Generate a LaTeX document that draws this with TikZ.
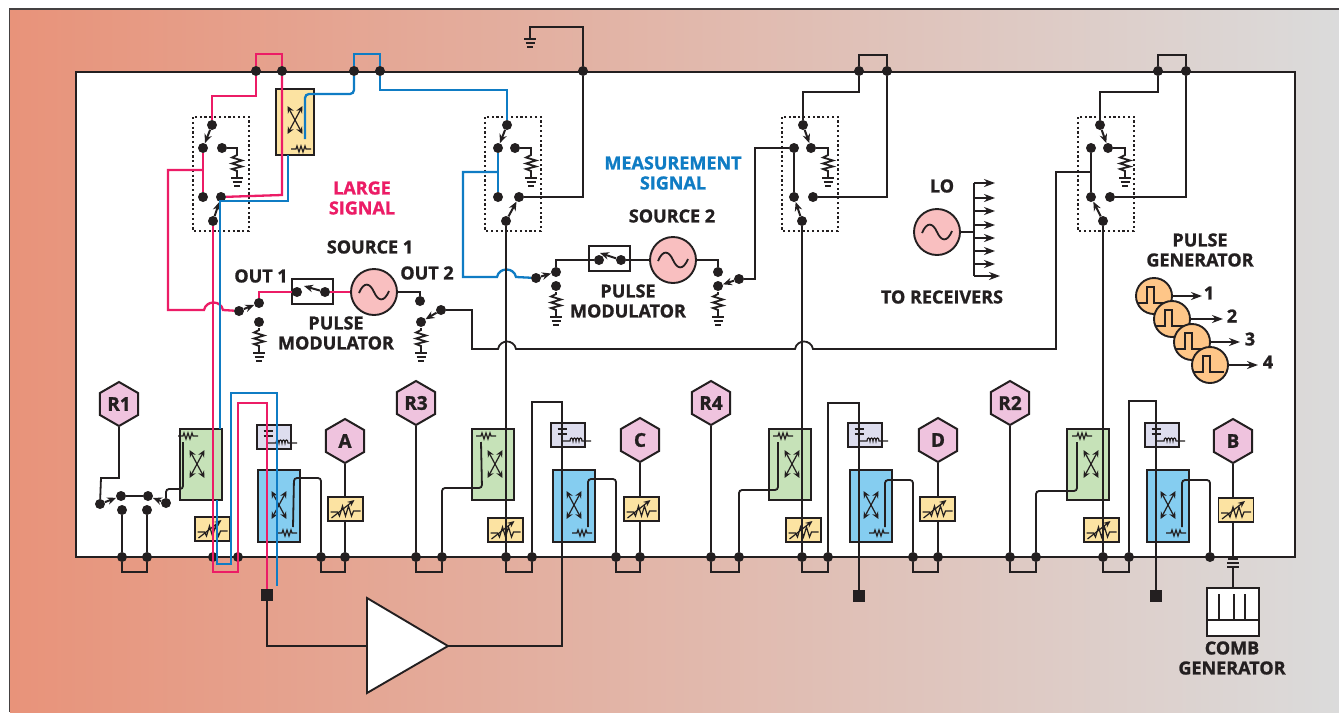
\documentclass[tikz,border=0pt]{standalone}
\usepackage{fontspec}
\setmainfont[BoldFeatures={FakeBold=1.2}]{Open Sans}
\usetikzlibrary{arrows.meta,shapes.geometric}
\definecolor{ink}{HTML}{231F20}
\definecolor{bgL}{HTML}{E8937A}
\definecolor{bgM}{HTML}{E1BBA8}
\definecolor{bgR}{HTML}{DBDBDB}
\definecolor{pnk}{HTML}{EC1C66}
\definecolor{blu}{HTML}{0F7CC4}
\definecolor{grnF}{HTML}{C6E2B8}
\definecolor{bluF}{HTML}{85CDF0}
\definecolor{ylwF}{HTML}{FCE3A2}
\definecolor{lilF}{HTML}{DDDDEE}
\definecolor{hexF}{HTML}{EFC3DE}
\definecolor{srcF}{HTML}{F9BFC0}
\definecolor{pgF}{HTML}{FEC688}
\tikzset{
  wire/.style={draw=ink,line width=1.8pt},
  pnkw/.style={draw=pnk,line width=2.3pt},
  bluw/.style={draw=blu,line width=2.3pt},
  fine/.style={draw=ink,line width=1.2pt},
  blk/.style={draw=ink,line width=1.9pt},
  dot/.style={circle,fill=ink,inner sep=0pt,minimum size=10pt},
  sw/.style={draw=ink,line width=2pt,-{Stealth[length=9pt,width=7.5pt]}},
  tip/.style={-{Stealth[length=11pt,width=8pt]}},
  lab/.style={inner sep=0pt,align=center,text=ink,font=\bfseries\fontsize{18}{20}\selectfont},
  hexn/.style={regular polygon,regular polygon sides=6,shape border rotate=30,draw=ink,line width=2pt,
    fill=hexF,inner sep=0pt,minimum size=44pt,text=ink,font=\bfseries\fontsize{19}{20}\selectfont},
  srcn/.style={circle,draw=ink,line width=1.9pt,fill=srcF,inner sep=0pt,minimum size=46pt},
  pgn/.style={circle,draw=ink,line width=1.9pt,fill=pgF,inner sep=0pt,minimum size=36pt},
  sqr/.style={rectangle,fill=ink,inner sep=0pt,minimum size=12pt},
  pics/xcross/.style={code={
    \draw[fine,{Stealth[length=7pt,width=6.5pt]}-{Stealth[length=7pt,width=6.5pt]}] (-7.5,-14) -- (7.5,14);
    \draw[fine,{Stealth[length=7pt,width=6.5pt]}-{Stealth[length=7pt,width=6.5pt]}] (7.5,-14) -- (-7.5,14);
  }},
  pics/rzig/.style={code={
    \draw[fine] (-10,0) -- (-5,0) -- (-4,-3) -- (-2,3) -- (0,-3) -- (2,3) -- (4,-3) -- (5,0) -- (10,0);
  }},
  pics/gndres/.style={code={
    \draw[wire] (0,0) -- (0,2) -- (-5,4.5) -- (5,7.5) -- (-5,10.5) -- (5,13.5) -- (-5,16) -- (0,18) -- (0,25);
    \pic at (0,25) {gnd};
  }},
  pics/gnd/.style={code={
    \draw[wire] (-6,0) -- (6,0) (-4.5,4) -- (4.5,4) (-3,8) -- (3,8);
  }},
  pics/attn/.style={code={
    \draw[blk,fill=ylwF] (-17.5,-12) rectangle (17.5,12);
    \draw[fine] (-15,3) -- (-8,3) -- (-6,7) -- (-3,-3) -- (0,7) -- (3,-3) -- (6,7) -- (8,2) -- (15,2);
    \draw[fine,-{Stealth[length=7pt,width=6pt]}] (-14,9) -- (9,-9);
  }},
  pics/grnblk/.style={code={
    \draw[blk,fill=grnF] (0,0) rectangle (42,71);
    \pic at (#1,35) {xcross};
    \pic at (#1-9,7) {rzig};
    \coordinate (-tap) at (#1-14,13);
  }},
  pics/blublk/.style={code={
    \draw[blk,fill=bluF] (0,0) rectangle (42,72);
    \pic at (21,35) {xcross};
    \pic at (29,63) {rzig};
    \coordinate (-tap) at (35,57);
  }},
  pics/biast/.style={code={
    \draw[blk,fill=lilF] (-11,0) rectangle (23,24);
    \draw[wire] (-4.5,6) -- (4.5,6) (-4.5,11) -- (4.5,11);
    \draw[fine] (0,18) -- (8,18) .. controls +(0,-4) and +(0,-4) .. ++(3,0)
      .. controls +(0,-4) and +(0,-4) .. ++(3,0) .. controls +(0,-4) and +(0,-4) .. ++(3,0)
      .. controls +(0,-4) and +(0,-4) .. ++(3,0) -- (29,18);
  }},
  pics/sinew/.style={code={
    \draw[wire] (-15,1) .. controls (-10,-11) and (-4,-9) .. (0,0) .. controls (4,9) and (10,11) .. (15,-1);
  }},
  pics/pulsew/.style={code={
    \draw[wire] (-16,7) -- (-7,7) -- (-7,-9) -- (0,-9) -- (0,7) -- (14,7);
  }},
}
\begin{document}
\begin{tikzpicture}[x=1pt,y=-1pt]
  \useasboundingbox (0,0) rectangle (1339,713);
  % background and instrument frame
  \shade[left color=bgL,middle color=bgM,right color=bgR] (10,9) rectangle (1339,712);
  \draw[ink!85,line width=1.5pt] (9.5,712) -- (9.5,8.8) -- (1339,8.8);
  \draw[draw=ink,line width=2.2pt,fill=white] (76,72) rectangle (1295,557);
  % blocks below the wires
  \pic (gA) at (180,429) {grnblk=17};
  \pic (gB) at (472,429) {grnblk=23};
  \pic (gC) at (769,429) {grnblk=23};
  \pic (gD) at (1067,429) {grnblk=24};
  \pic (cA) at (258,470) {blublk};
  \pic (cB) at (553,470) {blublk};
  \pic (cC) at (850,470) {blublk};
  \pic (cD) at (1147,470) {blublk};
  \pic (bA) at (268,425) {biast};
  \pic (bB) at (562,423) {biast};
  \pic (bC) at (859,423) {biast};
  \pic (bD) at (1156,423) {biast};
  \foreach \x/\y in {212.5/529,505.5/530,803.5/530,1101.5/530}
    \pic at (\x,\y) {attn};
  % directional coupler at the top
  \draw[blk,fill=ylwF] (276,89) rectangle (314,155);
  \pic at (295,120) {xcross};
  \pic at (301,149) {rzig};
  \coordinate (ycTap) at (305,139);
  \coordinate (ycOut) at (288,155);
  % transfer switches
  \foreach \n/\bx/\tx/\ulx/\urx/\llx/\lrx/\px/\rx/\ta/\ba in {
      A/193/212/203/222/203/221/213/237/ul/lr,
      B/485/507/498/515/498/519/506/531/ul/lr,
      C/782/803/794/811/794/813/802/828/ur/ll,
      D/1078/1100/1091/1108/1091/1110/1103/1125/ur/ll} {
    \draw[draw=ink,line width=1.5pt,dash pattern=on 2.2pt off 2.6pt] (\bx,117) rectangle +(56,114);
    \node[dot] (sw\n-t) at (\tx,125) {};
    \node[dot] (sw\n-ul) at (\ulx,148) {};
    \node[dot] (sw\n-ur) at (\urx,148) {};
    \node[dot] (sw\n-ll) at (\llx,197) {};
    \node[dot] (sw\n-lr) at (\lrx,197) {};
    \node[dot] (sw\n-b) at (\px,221) {};
    \draw[sw] (sw\n-t) -- (sw\n-\ta);
    \draw[sw] (sw\n-b) -- (sw\n-\ba);
    \draw[wire] (sw\n-ur) -- (\rx,148) -- (\rx,153);
    \pic at (\rx,153) {gndres};
  }
  % dots on the frame
  \foreach \n/\x in {pa/256,pb/282,qa/354,qb/380,k/583,ca/859,cb/887,da/1158,db/1186}
    \node[dot] (top\n) at (\x,71) {};
  \foreach \n/\xa/\xb in {1/122/147,2/213/238,3/321/345,4/416/442,5/506/532,6/616/640,
      7/711/739,8/802/828,9/913/938,10/1010/1036,11/1103/1129} {
    \node[dot] (lp\n a) at (\xa,557) {};
    \node[dot] (lp\n b) at (\xb,557) {};
  }
  \node[dot] (lp12) at (1210,557) {};
  % loops through the frame
  \foreach \n in {1,3,4,5,6,7,8,9,10,11}
    \draw[wire] (lp\n a) -- ++(0,15) -| (lp\n b);
  \draw[pnkw] (toppa) -- ++(0,-17) -| (toppb);
  \draw[bluw] (topqa) -- ++(0,-17) -| (topqb);
  \draw[wire] (topca) -- ++(0,-16) -| (topcb);
  \draw[wire] (topda) -- ++(0,-16) -| (topdb);
  % receivers and ports
  \foreach \n/\lab/\x/\y in {R1/R1/119/404,R3/R3/416/403,R4/R4/711/403,R2/R2/1010/403,
      PA/A/345/441,PB/C/640/440,PC/D/938/440,PD/B/1233/441}
    \node[hexn] (hex\n) at (\x,\y) {\lab};
  \node[sqr] (sqA) at (267,595) {};
  \node[sqr] (sqC) at (859,596) {};
  \node[sqr] (sqD) at (1156,596) {};
  % port 1 wiring
  \draw[pnkw] (toppa) -- (256,96) -- (212,96) -- (swA-t);
  \draw[pnkw] (toppb) -- (282,195) -- (swA-lr);
  \draw[pnkw] (swA-ul) -- (swA-ll);
  \coordinate (brA) at (203,170);
  \node[dot] (o1a) at (239,311) {};
  \node[dot] (o1b) at (259,303) {};
  \node[dot] (o1r) at (259,322) {};
  \draw[pnkw] (brA) -- (168,170) -- (168,310) -- (204,310) .. controls (206,300) and (221,300) .. (223,310) -- (o1a);
  \draw[pnkw] (swA-b) -- (213,572) -- (238,572) -- (238,403) -- (267,403) -- (sqA);
  \draw[bluw,rounded corners=4pt] (ycTap) -- (305,94) -- (354,94) -- (topqa);
  \draw[bluw] (ycOut) -- (288,201) -- (220,201) -- (220,429);
  \coordinate (cOutA) at (217,500);
  \coordinate (cEndA) at (277,586);
  \draw[bluw] (cOutA) -- (217,564) -- (231,564) -- (231,393) -- (277,393) -- (cEndA);
  \draw[bluw] (topqb) -- (380,90) -- (507,90) -- (swB-t);
  % port 2 wiring
  \draw[bluw] (swB-ul) -- (swB-ll);
  \coordinate (brB) at (498,172);
  \node[dot] (o3a) at (536,278) {};
  \node[dot] (o3b) at (556,272) {};
  \node[dot] (o3r) at (556,286) {};
  \draw[bluw] (brB) -- (463,172) -- (463,277) -- (497,277) .. controls (499,267) and (514,267) .. (516,277) -- (o3a);
  \draw[wire] (swB-lr) -- (583,197) -- (topk) -- (583,27) -- (530,27) -- (530,40);
  \pic at (530,39) {gnd};
  \draw[wire] (swB-b) -- (lp5a);
  % port 3 and 4 wiring
  \draw[wire] (swC-t) -- (803,92) -- (859,92) -- (topca);
  \draw[wire] (topcb) -- (887,197) -- (swC-lr);
  \draw[wire] (swC-ul) -- (swC-ll);
  \draw[wire] (swC-b) -- (lp8a);
  \draw[wire] (swD-t) -- (1100,92) -- (1158,92) -- (topda);
  \draw[wire] (topdb) -- (1186,197) -- (swD-lr);
  \draw[wire] (swD-ul) -- (swD-ll);
  \draw[wire] (swD-b) -- (lp11a);
  % source 1
  \node[dot] (o2a) at (420,301) {};
  \node[dot] (o2r) at (421,322) {};
  \node[dot] (o2b) at (441,310) {};
  \draw[blk,fill=white] (292,279) rectangle (333,304);
  \node[dot] (pm1a) at (297,292) {};
  \node[dot] (pm1b) at (325,292) {};
  \coordinate (pm1c) at (304,286);
  \node[srcn] (src1) at (374,292) {};
  \pic at (374,292) {sinew};
  \draw[sw] (pm1b) -- (pm1c);
  \draw[pnkw] (o1b) |- (pm1a);
  \draw[pnkw] (pm1b) -- (src1);
  \draw[wire] (src1) -| (o2a);
  \draw[sw] (o1a) -- (o1b);
  \draw[sw] (o2b) -- (o2r);
  \pic at (259,328) {gndres};
  \pic at (421,328) {gndres};
  \coordinate (brD) at (1091,172);
  \draw[wire] (o2b) -- (472,310) -- (472,349) -- (498,349) .. controls (500,339) and (514,339) .. (516,349)
    -- (795,349) .. controls (797,339) and (811,339) .. (813,349) -- (1056,349) -- (1056,172) -- (brD);
  % source 2
  \node[dot] (o4a) at (718,272) {};
  \node[dot] (o4r) at (718,286) {};
  \node[dot] (o4b) at (739,279) {};
  \draw[blk,fill=white] (589,246) rectangle (630,271);
  \node[dot] (pm2a) at (599,260) {};
  \node[dot] (pm2b) at (621,260) {};
  \coordinate (pm2c) at (600,253);
  \node[srcn] (src2) at (673,260) {};
  \pic at (673,260) {sinew};
  \draw[sw] (pm2b) -- (pm2c);
  \draw[wire] (o3b) |- (pm2a);
  \draw[wire] (pm2b) -- (src2);
  \draw[wire] (src2) -| (o4a);
  \draw[sw] (o3a) -- (o3b);
  \draw[sw] (o4b) -- (o4r);
  \pic at (556,292) {gndres};
  \pic at (718,292) {gndres};
  \draw[wire] (o4b) -- (755,279) -- (755,148) -- (swC-ul);
  % LO
  \node[srcn] (lo) at (937,232) {};
  \pic at (937,232) {sinew};
  \coordinate (loS) at (974,232);
  \draw[wire] (lo) -- (loS);
  \coordinate (loT) at (974,183);
  \coordinate (loU) at (974,276);
  \draw[wire] (loT) -- (loU);
  \foreach \i/\y/\e in {1/183/995,2/198/995,3/211/995,4/225/995,5/238/995,6/251/995,7/264/995,8/276/1000} {
    \coordinate (lo\i) at (\e,\y);
    \draw[wire,tip] (loS |- lo\i) -- (lo\i);
  }
  % pulse generator
  \foreach \i/\x/\y/\e/\t in {1/1154/296/1202/1209,2/1172/319/1223/1232,3/1192/342/1240/1250,4/1210/365/1258/1268} {
    \node[pgn] (pg\i) at (\x,\y) {};
    \pic at (\x,\y) {pulsew};
    \coordinate (pgo\i) at (\e,\y);
    \draw[wire,tip] (pg\i) -- (pgo\i);
    \node[lab] (pgl\i) at (\t,\y-3) {\i};
  }
  % R1 selector switch
  \node[dot] (r1a) at (100,504) {};
  \node[dot] (r1b) at (121,496) {};
  \node[dot] (r1c) at (148,496) {};
  \node[dot] (r1d) at (166,503) {};
  \node[dot] (r1e) at (122,510) {};
  \node[dot] (r1f) at (147,510) {};
  \draw[wire] (hexR1) -- (119,478) -- (101,478) -- (r1a);
  \draw[sw] (r1a) -- (r1b);
  \draw[sw] (r1d) -- (r1c);
  \draw[wire] (r1b) -- (r1c);
  \draw[wire] (r1e) -- (lp1a);
  \draw[wire] (r1f) -- (lp1b);
  % receiver wiring
  \draw[wire,rounded corners=3pt] (r1d) -- (166,489) -- (183,489) -- (gA-tap);
  \draw[wire] (hexR3) -- (lp4a);
  \draw[wire,rounded corners=3pt] (gB-tap) -- (482,488) -- (442,488) -- (lp4b);
  \draw[wire] (hexR4) -- (lp7a);
  \draw[wire,rounded corners=3pt] (gC-tap) -- (778,490) -- (739,490) -- (lp7b);
  \draw[wire] (hexR2) -- (lp10a);
  \draw[wire,rounded corners=3pt] (gD-tap) -- (1077,491) -- (1036,491) -- (lp10b);
  % test port wiring
  \draw[wire,rounded corners=3pt] (cA-tap) -- (294,478) -- (321,478) -- (lp3a);
  \draw[wire] (hexPA) -- (lp3b);
  \draw[wire,rounded corners=3pt] (cB-tap) -- (588,479) -- (616,479) -- (lp6a);
  \draw[wire] (hexPB) -- (lp6b);
  \draw[wire,rounded corners=3pt] (cC-tap) -- (885,480) -- (913,480) -- (lp9a);
  \draw[wire] (hexPC) -- (lp9b);
  \draw[wire,rounded corners=3pt] (cD-tap) -- (1182,480) -- (1210,480) -- (lp12);
  \draw[wire] (lp8b) -- (828,403) -- (859,403) -- (sqC);
  \draw[wire] (lp11b) -- (1129,401) -- (1156,401) -- (sqD);
  % amplifier
  \draw[draw=ink,line width=1.9pt,fill=white] (367,598) -- (448,646) -- (367,693) -- cycle;
  \coordinate (ampOut) at (448,646);
  \coordinate (ampI) at (367,646);
  \draw[wire] (sqA) -- (267,646) -- (ampI);
  \draw[wire] (lp5b) -- (532,402) -- (562,402) -- (562,646) -- (ampOut);
  % comb generator
  \node[rectangle,draw=ink,line width=2.2pt,fill=white,inner sep=0pt,minimum width=52pt,minimum height=48pt] (comb) at (1233,612) {};
  \draw[wire] (1207,620) -- (1259,620) (1219,594) -- (1219,620) (1234,594) -- (1234,620) (1245,594) -- (1245,620);
  \coordinate (capU) at (1233,559);
  \coordinate (capL) at (1233,567);
  \draw[wire] (hexPD) -- (capU);
  \draw[wire] (capL) -- (comb);
  \draw[wire] (1228,559) -- (1238,559) (1227,563) -- (1239,563) (1227,567) -- (1239,567);
  % attenuators above the wires
  \foreach \x/\y in {345.5/509,641.5/509,937.5/509,1236/510}
    \pic at (\x,\y) {attn};
  % texts
  \node[lab,text=pnk] (tLarge) at (362,198) {LARGE\\SIGNAL};
  \node[lab,text=blu] (tMeas) at (673,173) {MEASUREMENT\\SIGNAL};
  \node[lab] (tSrc1) at (370,247) {SOURCE 1};
  \node[lab] (tSrc2) at (672,216) {SOURCE 2};
  \node[lab] (tOut1) at (261,276) {OUT 1};
  \node[lab] (tOut2) at (427,273) {OUT 2};
  \node[lab] (tPm1) at (336,333) {PULSE\\MODULATOR};
  \node[lab] (tPm2) at (628,301) {PULSE\\MODULATOR};
  \node[lab] (tLo) at (942,186) {LO};
  \node[lab] (tRec) at (942,297) {TO RECEIVERS};
  \node[lab] (tPg) at (1200,250) {PULSE\\GENERATOR};
  \node[lab] (tComb) at (1232,658) {COMB\\GENERATOR};
\end{tikzpicture}
\end{document}
